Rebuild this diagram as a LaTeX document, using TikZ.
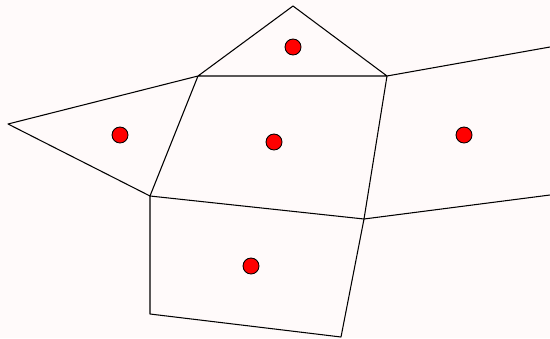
\documentclass[tikz,border=0pt]{standalone}
\definecolor{snowbg}{RGB}{255,250,250}
\tikzset{
	site/.style={circle, draw=black, fill=red, line width=0.5pt, minimum size=0.32cm, inner sep=0pt},
	cell/.style={line width=0.6pt, line join=round}
}
\begin{document}
\begin{tikzpicture}[x=0.02cm, y=-0.02cm]

		% background

		\fill[snowbg] (0,0) rectangle (550,338);

		\useasboundingbox (0,0) rectangle (550,338);

		% define point

		\coordinate (Top)  at (293, 6);

		\coordinate (TL)  at (198, 76);

		\coordinate (TR)  at (387, 76);

		\coordinate (L)  at (8, 124);

		\coordinate (BL)  at (150, 196);

		\coordinate (BR)  at (364, 219);

		\coordinate (RT)  at (550, 47);

		\coordinate (RB)  at (550, 195);

		\coordinate (DL)  at (150, 314);

		\coordinate (DR)  at (341, 337);

		% cells

		\draw[cell] (TL) -- (Top) -- (TR) -- (TL) -- (L) -- (BL) -- (TL);

		\draw[cell] (BL) -- (BR) -- (TR) -- (RT);

		\draw[cell] (BR) -- (RB);

		\draw[cell] (BL) -- (DL) -- (DR) -- (BR);

		% sites

		\node[site] (s1) at (293, 47) {};

		\node[site] (s2) at (120, 135) {};

		\node[site] (s3) at (274, 142) {};

		\node[site] (s4) at (464, 135) {};

		\node[site] (s5) at (251, 266) {};

	\end{tikzpicture}
\end{document}
